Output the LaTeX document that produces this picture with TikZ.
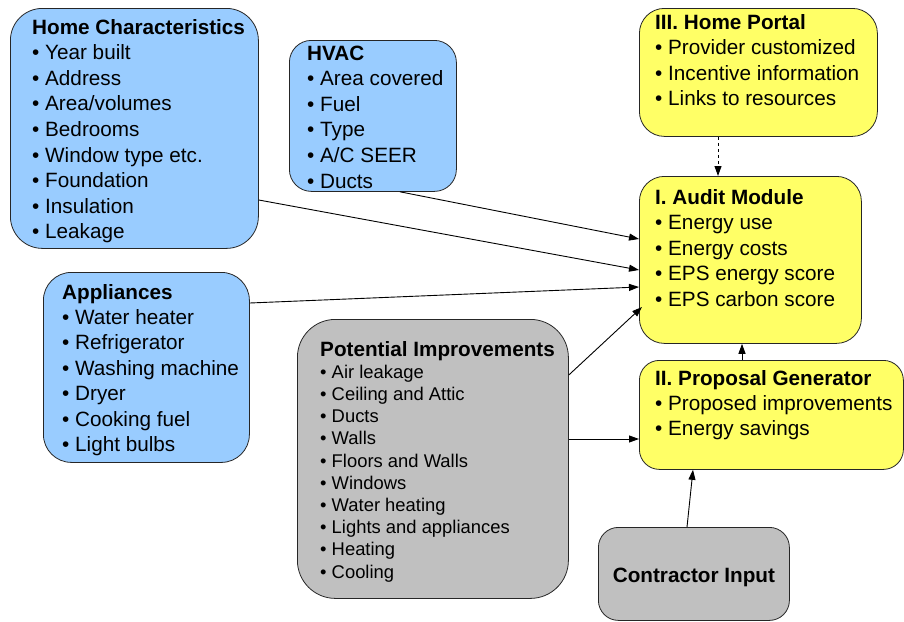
\documentclass[tikz,border=0pt]{standalone}
\usepackage{fontspec}
\setmainfont{Liberation Sans}
\usetikzlibrary{calc,arrows.meta}
\definecolor{boxblue}{HTML}{99CCFF}
\definecolor{boxyellow}{HTML}{FFFF66}
\definecolor{boxgray}{HTML}{C0C0C0}
\newcommand\hd[1]{\hbox{\bfseries #1}}
\newcommand\bul[1]{\hbox{\textbullet\ #1}}
\newcommand\lines[2]{\vtop{\baselineskip=#1\lineskiplimit=-30pt\lineskip=0pt #2}}
\tikzset{
  box/.style={draw=black!85, line width=0.8pt, rectangle, inner sep=0pt, anchor=north west},
  txt/.style={inner sep=0pt, anchor=base west, font=\fontsize{20.7}{25.6}\selectfont},
  conn/.style={line width=0.9pt, -{Triangle[length=10pt,width=7pt]}},
}
\begin{document}
\begin{tikzpicture}[x=1pt,y=-1pt]
\useasboundingbox (0,0) rectangle (904,621);
% boxes
\node[box, fill=boxblue, rounded corners=32pt, minimum width=248pt, minimum height=240pt] (hc) at (10,8) {};
\node[box, fill=boxblue, rounded corners=22pt, minimum width=167pt, minimum height=151pt] (hvac) at (289,40) {};
\node[box, fill=boxblue, rounded corners=28pt, minimum width=206pt, minimum height=190pt] (app) at (43,272) {};
\node[box, fill=boxgray, rounded corners=38pt, minimum width=271pt, minimum height=279pt] (pi) at (297,319) {};
\node[box, fill=boxyellow, rounded corners=25pt, minimum width=238pt, minimum height=128pt] (portal) at (639,8) {};
\node[box, fill=boxyellow, rounded corners=25pt, minimum width=222pt, minimum height=167pt] (audit) at (639,176) {};
\node[box, fill=boxyellow, rounded corners=20pt, minimum width=264pt, minimum height=109pt] (prop) at (639,360) {};
\node[box, fill=boxgray, rounded corners=20pt, minimum width=191pt, minimum height=93pt] (contr) at (598,527) {};
% texts
\node[txt] (hct) at (32,34) {\lines{25.6pt}{\hd{Home Characteristics}\bul{Year built}\bul{Address}\bul{Area/volumes}\bul{Bedrooms}\bul{Window type etc.}\bul{Foundation}\bul{Insulation}\bul{Leakage}}};
\node[txt] (hvact) at (307,60) {\lines{25.6pt}{\hd{HVAC}\bul{Area covered}\bul{Fuel}\bul{Type}\bul{A/C SEER}\bul{Ducts}}};
\node[txt] (appt) at (62,299) {\lines{25.4pt}{\hd{Appliances}\bul{Water heater}\bul{Refrigerator}\bul{Washing machine}\bul{Dryer}\bul{Cooking fuel}\bul{Light bulbs}}};
\node[txt] (pit) at (320,356) {\lines{22.2pt}{\hd{Potential Improvements}{\fontsize{18.4}{22.2}\selectfont\bul{Air leakage}\bul{Ceiling and Attic}\bul{Ducts}\bul{Walls}\bul{Floors and Walls}\bul{Windows}\bul{Water heating}\bul{Lights and appliances}\bul{Heating}\bul{Cooling}}}};
\node[txt] (portalt) at (655,29) {\lines{25.5pt}{\hd{III. Home Portal}\bul{Provider customized}\bul{Incentive information}\bul{Links to resources}}};
\node[txt] (auditt) at (655,204) {\lines{25.5pt}{\hd{I. Audit Module}\bul{Energy use}\bul{Energy costs}\bul{EPS energy score}\bul{EPS carbon score}}};
\node[txt] (propt) at (655,385) {\lines{25.3pt}{\hd{II. Proposal Generator}\bul{Proposed improvements}\bul{Energy savings}}};
\node[inner sep=0pt, font=\fontsize{20.7}{25.6}\selectfont\bfseries] (contrt) at ($(contr.center)+(0,4)$) {Contractor Input};
% connectors
\draw[conn] ($(hvac.south west)+(111,0)$) -- ($(audit.north west)+(0,63)$);
\draw[conn] ($(hc.north east)+(0,192)$) -- ($(audit.north west)+(0,94)$);
\draw[conn] ($(app.north east)+(0,31)$) -- ($(audit.north west)+(0,111)$);
\draw[conn] ($(pi.north east)+(0,56)$) -- ($(audit.north west)+(3,131)$);
\draw[conn] ($(pi.north east)+(0,120)$) -- ($(prop.north west)+(0,79)$);
\draw[conn] ($(prop.north west)+(103,0)$) -- ($(audit.south west)+(103,0)$);
\draw[conn, dashed] ($(portal.south west)+(79,0)$) -- ($(audit.north west)+(79,0)$);
\draw[conn] ($(contr.north west)+(89,0)$) -- ($(prop.south west)+(54,0)$);
\end{tikzpicture}
\end{document}
